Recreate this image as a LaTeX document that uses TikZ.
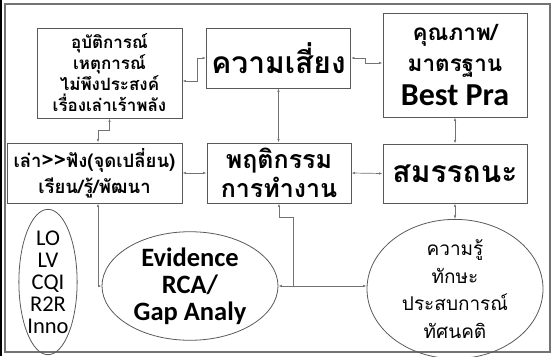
\documentclass[tikz,border=0pt]{standalone}
\usepackage{fontspec}
\setmainfont{Carlito}
\newfontfamily\thai[Script=Thai]{Loma}
\usetikzlibrary{arrows.meta,shapes.geometric}

\begin{document}
\begin{tikzpicture}[
    x=1pt, y=-1pt,
    >={Latex[length=3.5pt,width=2.5pt]},
    box/.style={draw=black!65, line width=0.9pt, align=center, inner sep=0pt},
    oval/.style={draw=black!65, line width=0.8pt, ellipse, align=center, inner sep=0pt},
    link/.style={<->, draw=black!55, line width=0.7pt}
]
\useasboundingbox (0,0) rectangle (553,356);

% Frame
\draw[black!55, line width=1.4pt] (5,4) rectangle (550,352);
\draw[black, line width=2pt] (1,0) -- (1,356);

% Top row
\node[box, minimum width=145, minimum height=90,
      font=\thai\bfseries\fontsize{17}{21}\selectfont]
    (incident) at (109.5,73) {อุบัติการณ์\\เหตุการณ์\\ไม่พึงประสงค์\\เรื่องเล่าเร้าพลัง};
\node[box, minimum width=144, minimum height=60,
      font=\thai\bfseries\fontsize{30}{32}\selectfont]
    (risk) at (278.5,58) {ความเสี่ยง};
\node[box, minimum width=144, minimum height=104,
      font=\thai\bfseries\fontsize{22.5}{31}\selectfont]
    (quality) at (455,65) {คุณภาพ/\\มาตรฐาน\\[3pt]{\normalfont\bfseries\fontsize{32}{32}\selectfont Best Pra}};

% Middle row
\node[box, minimum width=175, minimum height=60,
      font=\thai\bfseries\fontsize{18.5}{26}\selectfont]
    (story) at (94.5,173) {เล่า{\fontsize{21}{26}\selectfont>>}ฟัง(จุดเปลี่ยน)\\เรียน/รู้/พัฒนา};
\node[box, minimum width=144, minimum height=60,
      font=\thai\bfseries\fontsize{25}{29}\selectfont]
    (work) at (279,173) {พฤติกรรม\\การทำงาน};
\node[box, minimum width=144, minimum height=59,
      font=\thai\bfseries\fontsize{30}{32}\selectfont]
    (skill) at (455,173.5) {สมรรถนะ};

% Bottom row
\node[oval, minimum width=50, minimum height=138,
      font=\fontsize{22.5}{22}\selectfont]
    (tools) at (48,282) {LO\\LV\\CQI\\R2R\\Inno};
\node[oval, minimum width=176, minimum height=108,
      font=\bfseries\fontsize{26.5}{27}\selectfont]
    (evidence) at (190,286) {Evidence\\RCA/\\Gap Analy};
\node[oval, minimum width=176, minimum height=122,
      font=\thai\fontsize{19}{27.5}\selectfont]
    (know) at (455,289) {ความรู้\\ทักษะ\\ประสบการณ์\\ทัศนคติ};

% Links
\draw[link] ([yshift=-8pt]incident.east) -- ++(15,0) |- (risk.west);
\draw[link] (risk.east) -- ++(14,0) |- ([yshift=2pt]quality.west);
\draw[link] (incident.south) -- ++(0,12) -| ([xshift=3.5pt]story.north);
\draw[link] (risk.south) -- (risk.south |- work.north);
\draw[link] (quality.south) -- (skill.north);
\draw[link] (story.east) -- (work.west);
\draw[link] (work.east) -- (skill.west);
\draw[link] (skill.south) -- (know.north);
\draw[link] ([xshift=3.5pt]story.south) |- (evidence.west);
\draw[link] (evidence.east) -- (evidence.east -| know.west);
\coordinate (joint) at (evidence.east -| 293,0);
\draw[link, <-] (work.south) -- ++(0,14) -| (joint);

\end{tikzpicture}
\end{document}
